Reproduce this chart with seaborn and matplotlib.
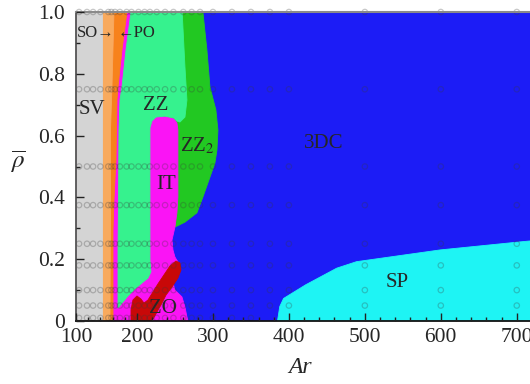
import numpy as np
import pandas as pd
import matplotlib
matplotlib.use("Agg")
import matplotlib.pyplot as plt
import seaborn as sns

# ---------------- phase-diagram data: Ar vs mean density ----------------
# domain of the diagram
dom_ar = [100, 730, 730, 100]
dom_rho = [0.0, 0.0, 1.0, 1.0]

# SV | SO boundary
sv_ar = [100, 142.6, 142.6, 100]
sv_rho = [0.0, 0.0, 1.0, 1.0]

# SO | PO boundary (top to bottom)
so_po_ar = [162.3, 159.0, 156.6, 156.6, 155.7]
so_po_rho = [1.0, 0.757, 0.618, 0.392, 0.0]

# PO | thin IT strip boundary (top to bottom)
po_it_ar = [183.6, 175.4, 168.9, 167.2, 165.6, 162.3, 160.7, 160.7]
po_it_rho = [1.0, 0.877, 0.757, 0.715, 0.521, 0.392, 0.294, 0.0]

# ZZ2 | 3DC boundary (top to bottom)
zz2_ar = [240, 286.8, 292.1, 296.1, 303.9, 306.6, 305.3, 302.6, 294.7,
          286.8, 278.9, 263.2, 250.0, 240]
zz2_rho = [1.0, 1.0, 0.877, 0.757, 0.683, 0.618, 0.553, 0.511, 0.456,
           0.401, 0.350, 0.320, 0.304, 0.304]

# IT region (strip, bottom band and central column)
it_ar = [100, 100, 267.1, 265.8, 263.2, 259.2, 250.0, 247.4, 252.6, 253.9,
         256.6, 253.9, 250.0, 247.4, 246.1, 250.0, 252.6, 253.9, 253.9,
         252.6, 248.7, 236.8, 225.0, 219.7, 217.1, 217.1]
it_rho = [1.0, 0.0, 0.0, 0.013, 0.045, 0.078, 0.100, 0.123, 0.139, 0.155,
          0.172, 0.191, 0.207, 0.230, 0.262, 0.304, 0.350, 0.401, 0.618,
          0.641, 0.654, 0.663, 0.660, 0.647, 0.625, 1.0]

# ZZ region
zz_ar = [190.2, 259.5, 263.2, 265.8, 263.2, 256.6, 252.6, 248.7, 236.8,
         225.0, 219.7, 217.1, 217.1, 218.4, 214.5, 206.6, 196.7, 185.2,
         175.4, 168.9, 168.9, 169.7, 170.5, 172.1, 175.4, 182.0]
zz_rho = [1.0, 1.0, 0.822, 0.715, 0.660, 0.644, 0.647, 0.657, 0.663,
          0.660, 0.647, 0.625, 0.197, 0.159, 0.139, 0.123, 0.104, 0.081,
          0.058, 0.042, 0.230, 0.392, 0.618, 0.715, 0.757, 0.877]

# ZO region
zo_ar = [251.3, 256.6, 257.9, 253.9, 246.1, 238.2, 232.9, 226.3, 219.7,
         190.2, 190.2, 193.4, 200.0, 205.3, 209.2, 214.5, 221.1, 227.6,
         235.5, 243.4]
zo_rho = [0.194, 0.188, 0.165, 0.139, 0.110, 0.084, 0.058, 0.029, 0.0,
          0.0, 0.036, 0.068, 0.081, 0.071, 0.058, 0.068, 0.094, 0.120,
          0.149, 0.178]

# SP region
sp_ar = [385, 388, 393, 422, 463, 489, 599, 700, 730, 730]
sp_rho = [0.0, 0.047, 0.073, 0.117, 0.171, 0.192, 0.230, 0.255, 0.262, 0.0]

# simulated cases
sim_ar = [105, 118, 128, 140, 153, 158, 164, 172, 183, 191, 202, 210, 217,
          226, 237, 248, 261, 272, 283, 300, 325, 350, 375, 400, 500, 600, 700]
sim_rho = [0.05, 0.1, 0.18, 0.25, 0.375, 0.5, 0.75, 1.0]
sim_rho_wall = 0.01
sim_ar_wall_max = 350

# region labels
labels = ["SV", "ZZ", r"ZZ$_2$", "IT", "3DC", "SP", "ZO"]
label_ar = [126.2, 225, 279, 238, 446, 543, 234]
label_rho = [0.683, 0.699, 0.566, 0.443, 0.573, 0.123, 0.039]

colors = {
    "3DC": "#1c1cf6", "SP": "#1ef4f4", "ZZ2": "#22c822", "IT": "#fa14f5",
    "ZZ": "#36f28e", "ZO": "#c80808", "SV": "#d4d4d4", "SO": "#f8aa5e",
    "PO": "#f7821c",
}

# ---------------- figure ----------------
sns.set_style("ticks")
plt.rcParams["font.family"] = ["Liberation Serif", "DejaVu Serif"]
plt.rcParams["mathtext.fontset"] = "stix"

fig = plt.figure(figsize=(5.3, 3.84), dpi=100)
ax = fig.add_axes([76 / 530, 63 / 384, 459 / 530, 309 / 384])


# horizontal axis: 100-200 compressed, linear beyond
def fwd(x):
    x = np.asarray(x, dtype=float)
    return np.where(x < 200, 100 + (x - 100) * 61 / 76, x - 200 + 100 + 100 * 61 / 76)


def inv(u):
    u = np.asarray(u, dtype=float)
    k = 100 + 100 * 61 / 76
    return np.where(u < k, 100 + (u - 100) * 76 / 61, u - k + 200)


ax.set_xscale("function", functions=(fwd, inv))
ax.set_xlim(100, 724)
ax.set_ylim(0, 1)


def region(xs, ys, c):
    ax.fill(xs, ys, color=c, lw=0.6, ec=c, zorder=1)


region(dom_ar, dom_rho, colors["3DC"])
region(sp_ar, sp_rho, colors["SP"])
region(zz2_ar, zz2_rho, colors["ZZ2"])
region(it_ar, it_rho, colors["IT"])
region(zz_ar, zz_rho, colors["ZZ"])
region(zo_ar, zo_rho, colors["ZO"])
region(po_it_ar + so_po_ar[::-1], po_it_rho + so_po_rho[::-1], colors["PO"])
region([142.6, 142.6] + so_po_ar[::-1], [1.0, 0.0] + so_po_rho[::-1], colors["SO"])
region(sv_ar, sv_rho, colors["SV"])

# simulated cases as open circles
pts = pd.DataFrame([(a, r) for r in sim_rho for a in sim_ar], columns=["Ar", "rho"])
wall = pd.DataFrame([(a, sim_rho_wall) for a in sim_ar if a <= sim_ar_wall_max],
                    columns=["Ar", "rho"])
pts = pd.concat([wall, pts], ignore_index=True)
sns.scatterplot(data=pts, x="Ar", y="rho", ax=ax, marker="o", s=15,
                facecolor="none", edgecolor="#3a3a3a", linewidth=0.9,
                alpha=0.28, zorder=2, clip_on=False, legend=False)

# region labels
for t, xa, yr in zip(labels, label_ar, label_rho):
    ax.text(xa, yr, t, fontsize=15, ha="center", va="center", zorder=5)
ax.text(101.5, 0.932, "SO\u2192", fontsize=12, ha="left", va="center", zorder=5)
ax.text(167.5, 0.932, "\u2190PO", fontsize=12, ha="left", va="center", zorder=5)

# axes styling
ax.set_xticks([100, 200, 300, 400, 500, 600, 700])
ax.set_xticklabels(["100", "200", "300", "400", "500", "600", "700"])
ax.set_xticks([a for a in range(120, 720, 20) if a % 100], minor=True)
ax.set_yticks([0, 0.2, 0.4, 0.6, 0.8, 1.0])
ax.set_yticklabels(["0", "0.2", "0.4", "0.6", "0.8", "1.0"])
ax.set_yticks([0.1, 0.3, 0.5, 0.7, 0.9], minor=True)
ax.tick_params(which="both", direction="in", top=False, right=False,
               labelsize=15.5, color="#222222", width=1)
ax.tick_params(which="major", length=6)
ax.tick_params(which="minor", length=3)
ax.tick_params(axis="x", pad=5)
ax.tick_params(axis="y", pad=8)
ax.set_axisbelow(False)

ax.spines["right"].set_visible(False)
ax.spines["top"].set_color("#8a8a8a")
ax.spines["top"].set_linewidth(1.5)
ax.spines["left"].set_color("#555555")
ax.spines["left"].set_linewidth(1.3)
ax.spines["bottom"].set_color("#111111")
ax.spines["bottom"].set_linewidth(1.3)

ax.set_xlabel("Ar", fontsize=17, fontstyle="italic", va="center")
ax.xaxis.set_label_coords(0.488, -0.152)
ax.set_ylabel(r"$\overline{\rho}$", fontsize=18, rotation=0, ha="center", va="center")
ax.yaxis.set_label_coords(-0.126, 0.515)

fig.savefig("out.png", dpi=100)
